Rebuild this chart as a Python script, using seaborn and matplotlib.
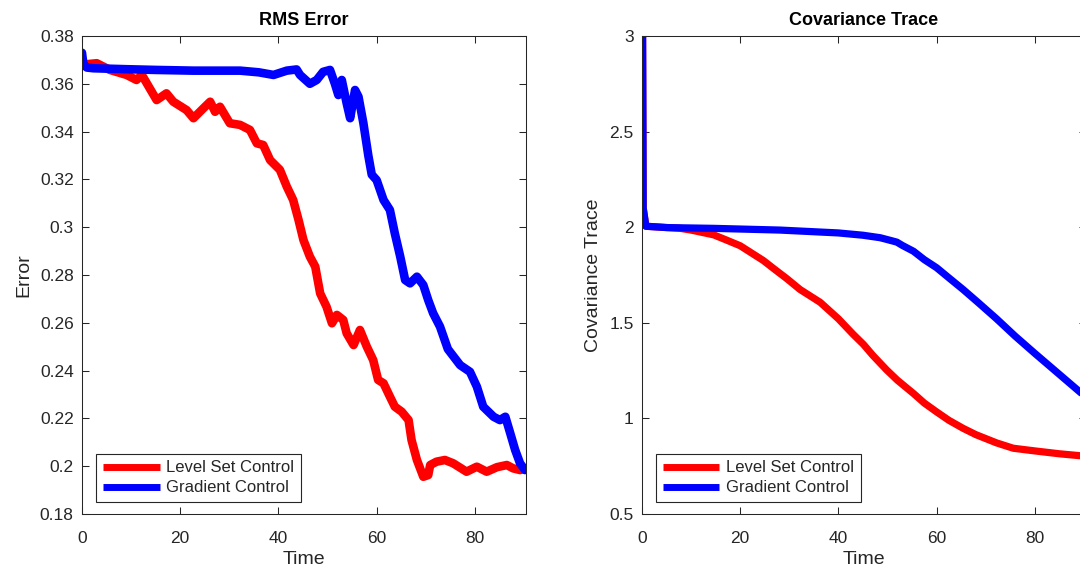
import pandas as pd
import matplotlib
matplotlib.use('Agg')
import matplotlib.pyplot as plt
import seaborn as sns
from matplotlib.ticker import FuncFormatter

# RMS error, level set control
rms_time_level = [0, 3.0, 5.7, 9.1, 11.1, 12.2, 13.8, 15.2, 17.2, 18.6, 21.3, 22.7, 24.7, 26.1,
                  27.1, 28.1, 30.1, 32.2, 34.2, 35.6, 36.9, 38.3, 40.3, 41.7, 43.0, 44.1, 45.1,
                  46.4, 47.5, 48.5, 49.8, 50.9, 51.9, 53.2, 53.9, 55.3, 56.6, 58.0, 59.3, 60.3,
                  61.4, 62.7, 63.7, 65.1, 66.5, 67.1, 68.2, 69.5, 70.5, 70.9, 72.2, 73.9, 75.6,
                  78.3, 80.4, 82.4, 84.5, 86.5, 87.8, 89.2, 90.0]
rms_level = [0.368, 0.3686, 0.3658, 0.3637, 0.3616, 0.3637, 0.3581, 0.3532, 0.3560, 0.3525,
             0.3490, 0.3456, 0.3497, 0.3525, 0.3483, 0.3504, 0.3435, 0.3428, 0.3407, 0.3351,
             0.3344, 0.3281, 0.3240, 0.3170, 0.3114, 0.3030, 0.2946, 0.2877, 0.2835, 0.2723,
             0.2667, 0.2598, 0.2633, 0.2612, 0.2556, 0.2507, 0.2570, 0.2500, 0.2444, 0.2361,
             0.2347, 0.2291, 0.2249, 0.2228, 0.2193, 0.2110, 0.2026, 0.1956, 0.1963, 0.2005,
             0.2019, 0.2026, 0.2012, 0.1977, 0.1998, 0.1977, 0.1996, 0.2005, 0.1991, 0.1984,
             0.1990]

# RMS error, gradient control
rms_time_grad = [0, 0.3, 1.0, 2.3, 9.1, 15.0, 22.7, 32.2, 36.0, 39.0, 41.7, 43.7, 44.4, 46.4,
                 47.8, 49.1, 50.5, 51.5, 52.2, 52.9, 53.9, 54.6, 55.6, 56.3, 57.3, 58.3, 59.0,
                 60.0, 61.4, 62.7, 63.7, 64.8, 65.8, 66.8, 68.2, 69.5, 70.5, 71.5, 72.9, 74.5,
                 77.0, 79.0, 80.4, 81.7, 83.8, 85.1, 86.2, 87.2, 88.2, 89.2, 90.2]
rms_grad = [0.373, 0.368, 0.3668, 0.3665, 0.3661, 0.3658, 0.3655, 0.3655, 0.3648, 0.3637,
            0.3655, 0.3660, 0.3637, 0.3600, 0.3616, 0.3650, 0.3658, 0.3600, 0.3553, 0.3616,
            0.3518, 0.3456, 0.3574, 0.3546, 0.3435, 0.3300, 0.3220, 0.3197, 0.3114, 0.3072,
            0.2974, 0.2877, 0.2779, 0.2765, 0.2793, 0.2758, 0.2695, 0.2640, 0.2584, 0.2490,
            0.2423, 0.2395, 0.2333, 0.2249, 0.2207, 0.2193, 0.2207, 0.2138, 0.2068, 0.2012,
            0.1984]

# covariance trace
cov_time_level = [0, 0.25, 0.8, 7.8, 10, 14.6, 17, 20, 24.7, 27, 29.5, 32.2, 36.3, 40, 43, 45.1,
                  47, 49.8, 52, 55.3, 57.5, 60, 62.5, 65.4, 68, 72.2, 75.6, 80, 85, 90]
cov_level = [4.0, 2.1, 2.005, 1.994, 1.985, 1.960, 1.935, 1.903, 1.826, 1.780, 1.731, 1.674,
             1.607, 1.521, 1.440, 1.387, 1.330, 1.254, 1.200, 1.130, 1.080, 1.034, 0.990, 0.948,
             0.915, 0.872, 0.844, 0.830, 0.815, 0.803]
cov_time_grad = [0, 0.25, 0.8, 5, 14.6, 28.1, 40, 45, 48.5, 50, 51.9, 53, 55.3, 57.5, 60, 62.5,
                 65.4, 68.5, 72.2, 76, 80, 85, 90]
cov_grad = [4.0, 2.1, 2.005, 1.998, 1.994, 1.985, 1.970, 1.958, 1.945, 1.935, 1.922, 1.905,
            1.874, 1.830, 1.788, 1.735, 1.674, 1.605, 1.521, 1.430, 1.340, 1.230, 1.120]

methods = ['Level Set Control', 'Gradient Control']
colors = {'Level Set Control': '#ff0000', 'Gradient Control': '#0000ff'}


def make_frame(t_level, v_level, t_grad, v_grad):
    a = pd.DataFrame({'Time': t_level, 'Value': v_level, 'Method': methods[0]})
    b = pd.DataFrame({'Time': t_grad, 'Value': v_grad, 'Method': methods[1]})
    return pd.concat([a, b], ignore_index=True)


rms_df = make_frame(rms_time_level, rms_level, rms_time_grad, rms_grad)
cov_df = make_frame(cov_time_level, cov_level, cov_time_grad, cov_grad)

sns.set_style('ticks')
plt.rcParams['font.family'] = ['Liberation Sans', 'DejaVu Sans']
plt.rcParams['legend.fancybox'] = False
plt.rcParams['legend.edgecolor'] = '#262626'
plt.rcParams['legend.framealpha'] = 1
plt.rcParams['patch.linewidth'] = 0.8
dark = '#262626'

fig = plt.figure(figsize=(10.8, 5.74), dpi=100)
ax1 = fig.add_axes([0.0759, 0.1045, 0.4111, 0.8328])
ax2 = fig.add_axes([0.5944, 0.1045, 0.4111, 0.8328])

panels = [
    (ax1, rms_df, 'RMS Error', 'Error', (0.18, 0.38),
     [0.18, 0.2, 0.22, 0.24, 0.26, 0.28, 0.3, 0.32, 0.34, 0.36, 0.38], 6.2),
    (ax2, cov_df, 'Covariance Trace', 'Covariance Trace', (0.5, 3),
     [0.5, 1, 1.5, 2, 2.5, 3], 5.2),
]

for ax, df, title, ylabel, ylim, yticks, lw in panels:
    sns.lineplot(data=df, x='Time', y='Value', hue='Method', hue_order=methods,
                 palette=colors, estimator=None, sort=False, linewidth=lw,
                 solid_joinstyle='round', solid_capstyle='round', ax=ax)
    ax.set_xlim(0, 90.4)
    ax.set_ylim(*ylim)
    ax.set_xticks([0, 20, 40, 60, 80])
    ax.set_yticks(yticks)
    ax.yaxis.set_major_formatter(FuncFormatter(lambda v, p: '%g' % round(v, 4)))
    ax.tick_params(direction='in', top=True, right=True, length=5, width=0.75,
                   colors=dark, labelcolor=dark, labelsize=12.5, pad=6)
    ax.tick_params(axis='x', pad=12)
    for s in ax.spines.values():
        s.set_color(dark)
        s.set_linewidth(0.75)
        s.set_visible(True)
    ax.set_title(title, fontweight='bold', fontsize=13, pad=8, color='black')
    ax.set_xlabel('Time', fontsize=14, color=dark, labelpad=4)
    ax.set_ylabel(ylabel, fontsize=14, color=dark, labelpad=5)
    sns.move_legend(ax, 'lower left', bbox_to_anchor=(0.032, 0.025), title=None,
                    frameon=True, fontsize=12, handlelength=3.4, handletextpad=0.4,
                    borderpad=0.4, labelspacing=0.3, borderaxespad=0)
    for line in ax.get_legend().get_lines():
        line.set_linewidth(5)
        line.set_solid_capstyle('butt')

fig.savefig('out.png', dpi=100)
